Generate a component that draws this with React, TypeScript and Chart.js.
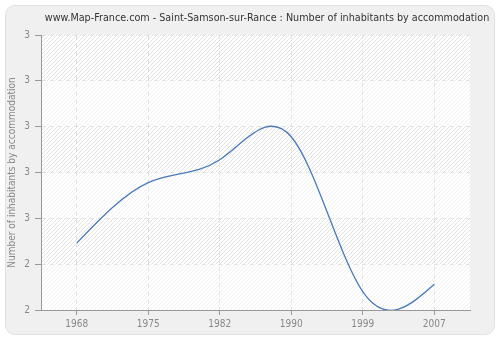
import React, { useEffect, useRef } from "react";
import { Chart, registerables } from "chart.js";

Chart.register(...registerables);

const years = ["1968", "1975", "1982", "1990", "1999", "2007"];
const inhabitantsPerAccommodation = [2.473, 2.539, 2.564, 2.589, 2.42, 2.428];
const yMin = 2.4;
const yMax = 2.7;
const yStep = 0.05;
const chartTitle =
  "www.Map-France.com - Saint-Samson-sur-Rance : Number of inhabitants by accommodation";
const yAxisTitle = "Number of inhabitants by accommodation";

const FONT = '"DejaVu Sans Condensed", "DejaVu Sans", sans-serif';

const plotBackground = {
  id: "plotBackground",
  beforeDraw(chart: any) {
    const { ctx, chartArea } = chart;
    const { left, top, right, bottom } = chartArea;
    const h = bottom - top;
    ctx.save();
    ctx.fillStyle = "#ffffff";
    ctx.fillRect(left, top, right - left, h);
    ctx.beginPath();
    ctx.rect(left, top, right - left, h);
    ctx.clip();
    ctx.strokeStyle = "#e3e3e3";
    ctx.lineWidth = 1;
    ctx.beginPath();
    for (let k = left - h; k < right + 4; k += 4) {
      ctx.moveTo(k, bottom);
      ctx.lineTo(k + h, top);
    }
    ctx.stroke();
    const yScale = chart.scales.y;
    const px = yScale.ticks
      .map((t: any) => yScale.getPixelForValue(t.value))
      .sort((a: number, b: number) => a - b);
    ctx.fillStyle = "rgba(255,255,255,0.55)";
    for (let i = 0; i < px.length - 1; i++) {
      if (i % 2 === 1) ctx.fillRect(left, px[i], right - left, px[i + 1] - px[i]);
    }
    ctx.restore();
  },
};

const naturalSpline = {
  id: "naturalSpline",
  beforeDatasetDraw(chart: any, args: any) {
    const meta = chart.getDatasetMeta(args.index);
    const pts = meta.data as any[];
    const n = pts.length;
    if (n < 3) return;
    const x = pts.map((p) => p.x);
    const y = pts.map((p) => p.y);
    const h: number[] = [];
    for (let i = 0; i < n - 1; i++) h[i] = x[i + 1] - x[i];
    const a: number[] = [], b: number[] = [], c: number[] = [], d: number[] = [];
    for (let i = 1; i < n - 1; i++) {
      a[i] = h[i - 1];
      b[i] = 2 * (h[i - 1] + h[i]);
      c[i] = h[i];
      d[i] = 6 * ((y[i + 1] - y[i]) / h[i] - (y[i] - y[i - 1]) / h[i - 1]);
    }
    const cp: number[] = [], dp: number[] = [];
    for (let i = 1; i < n - 1; i++) {
      const m = b[i] - (i > 1 ? a[i] * cp[i - 1] : 0);
      cp[i] = c[i] / m;
      dp[i] = (d[i] - (i > 1 ? a[i] * dp[i - 1] : 0)) / m;
    }
    const M = new Array(n).fill(0);
    for (let i = n - 2; i >= 1; i--) M[i] = dp[i] - cp[i] * M[i + 1];
    const s: number[] = [];
    for (let i = 0; i < n - 1; i++) s[i] = (y[i + 1] - y[i]) / h[i] - (h[i] * (2 * M[i] + M[i + 1])) / 6;
    s[n - 1] = (y[n - 1] - y[n - 2]) / h[n - 2] + (h[n - 2] * (M[n - 2] + 2 * M[n - 1])) / 6;
    for (let i = 0; i < n; i++) {
      const p = pts[i];
      if (i > 0) {
        p.cp1x = x[i] - h[i - 1] / 3;
        p.cp1y = y[i] - (s[i] * h[i - 1]) / 3;
      } else {
        p.cp1x = x[i];
        p.cp1y = y[i];
      }
      if (i < n - 1) {
        p.cp2x = x[i] + h[i] / 3;
        p.cp2y = y[i] + (s[i] * h[i]) / 3;
      } else {
        p.cp2x = x[i];
        p.cp2y = y[i];
      }
    }
    if (meta.dataset) {
      meta.dataset._pointsUpdated = true;
      meta.dataset._path = undefined;
    }
  },
};

const headerTitle = {
  id: "headerTitle",
  afterDraw(chart: any) {
    const ctx = chart.ctx;
    ctx.save();
    ctx.font = `10.7px ${FONT}`;
    ctx.fillStyle = "#333333";
    ctx.textAlign = "center";
    ctx.textBaseline = "middle";
    ctx.fillText(chartTitle, 267, 18);
    ctx.restore();
  },
};

export default function App() {
  const ref = useRef<HTMLCanvasElement | null>(null);

  useEffect(() => {
    document.body.style.margin = "0";
    if (!ref.current) return;
    const tickFont = { family: FONT, size: 10 };
    const chart = new Chart(ref.current, {
      type: "line",
      data: {
        labels: years,
        datasets: [
          {
            data: inhabitantsPerAccommodation,
            borderColor: "#4a7ab8",
            borderWidth: 1.3,
            pointRadius: 0,
            fill: false,
            tension: 0.4,
          },
        ],
      },
      options: {
        animation: false,
        responsive: false,
        maintainAspectRatio: false,
        layout: { padding: { top: 35, right: 30, bottom: 0, left: 0 } },
        plugins: {
          legend: { display: false },
          title: { display: false },
          tooltip: { enabled: false },
        },
        scales: {
          x: {
            type: "category",
            offset: true,
            grid: { color: "#e2e2e2", tickColor: "#999999", tickLength: 5, tickBorderDash: [] },
            border: { color: "#999999", dash: [4, 4], width: 1 },
            ticks: { color: "#888888", font: tickFont, padding: 3, maxRotation: 0, autoSkip: false },
            afterFit: (s: any) => {
              s.height = 30;
            },
          },
          y: {
            min: yMin,
            max: yMax,
            grid: { color: "#e2e2e2", tickColor: "#999999", tickLength: 6, tickBorderDash: [] },
            border: { color: "#999999", dash: [4, 4], width: 1 },
            ticks: {
              stepSize: yStep,
              color: "#888888",
              font: tickFont,
              padding: 5,
              callback: (v: any) => String(Math.round(Number(v))),
            },
            title: {
              display: true,
              text: yAxisTitle,
              color: "#888888",
              font: { family: FONT, size: 10 },
              padding: { top: 6, bottom: 0 },
            },
            afterFit: (s: any) => {
              s.width = 41;
            },
          },
        },
      },
      plugins: [plotBackground, naturalSpline, headerTitle],
    } as any);
    return () => chart.destroy();
  }, []);

  return (
    <div style={{ position: "relative", width: 500, height: 340, background: "#ffffff" }}>
      <div
        style={{
          position: "absolute",
          left: 5,
          top: 5,
          width: 488,
          height: 328,
          background: "#f0f0f0",
          border: "1px solid #e0e0e0",
          borderRadius: 10,
        }}
      />
      <canvas
        ref={ref}
        width={500}
        height={340}
        style={{ position: "absolute", left: 0, top: 0, width: 500, height: 340, display: "block" }}
      />
    </div>
  );
}
